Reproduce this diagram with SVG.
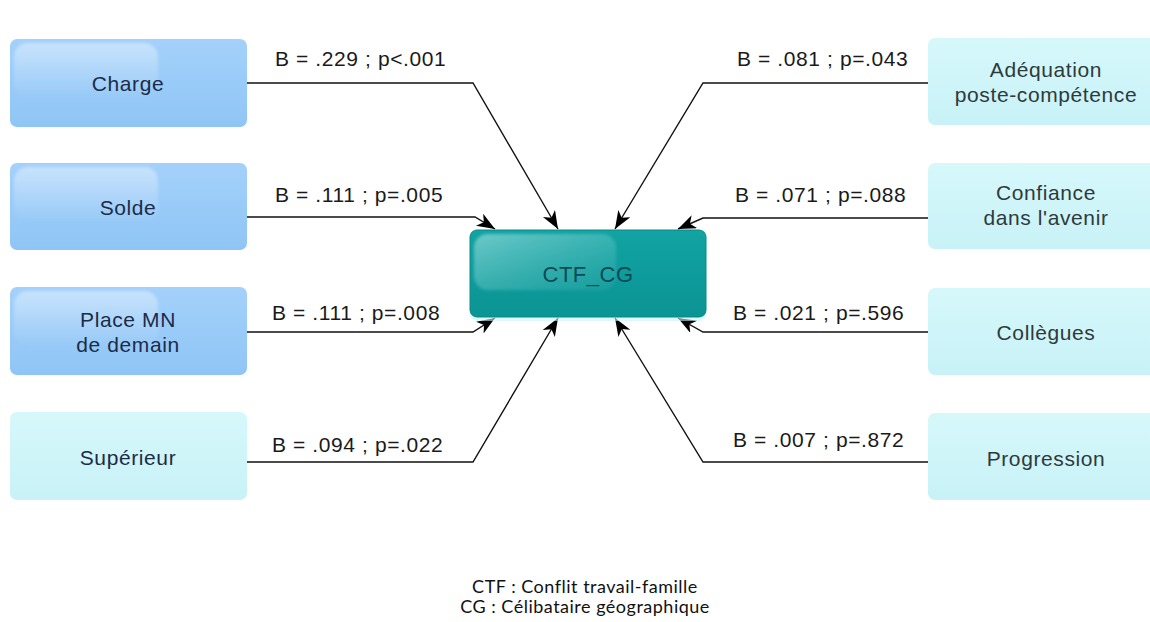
<svg xmlns="http://www.w3.org/2000/svg" width="1150" height="622" viewBox="0 0 1150 622">
  <defs>
    <linearGradient id="gBlue" x1="0" y1="0" x2="0" y2="1">
      <stop offset="0" stop-color="#a4d1fb"/>
      <stop offset="1" stop-color="#8fc5f5"/>
    </linearGradient>
    <linearGradient id="gCyan" x1="0" y1="0" x2="0" y2="1">
      <stop offset="0" stop-color="#d6f8fb"/>
      <stop offset="1" stop-color="#c8f2f7"/>
    </linearGradient>
    <linearGradient id="gTeal" x1="0" y1="0" x2="0" y2="1">
      <stop offset="0" stop-color="#12a3a3"/>
      <stop offset="1" stop-color="#0b9494"/>
    </linearGradient>
    <linearGradient id="gGloss" x1="0" y1="0" x2="0" y2="1">
      <stop offset="0" stop-color="#ffffff" stop-opacity="0.4"/>
      <stop offset="0.6" stop-color="#ffffff" stop-opacity="0.15"/>
      <stop offset="1" stop-color="#ffffff" stop-opacity="0"/>
    </linearGradient>
    <linearGradient id="gGlossTeal" x1="0" y1="0" x2="1" y2="1">
      <stop offset="0" stop-color="#9fdede" stop-opacity="0.65"/>
      <stop offset="1" stop-color="#4fbcbc" stop-opacity="0.15"/>
    </linearGradient>
    <filter id="soft" x="-10%" y="-10%" width="120%" height="120%">
      <feGaussianBlur stdDeviation="1.5"/>
    </filter>
    <marker id="arrow" markerUnits="userSpaceOnUse" markerWidth="20" markerHeight="16" refX="18" refY="7" orient="auto">
      <path d="M0,0 L18,7 L0,14 L5,7 z" fill="#000"/>
    </marker>
    <style>
      .lbl { font-family: "Liberation Sans", Arial, sans-serif; font-size: 21px; letter-spacing: 0.6px; fill: #1a1a1a; }
      .ntxt { font-family: "Liberation Sans", Arial, sans-serif; font-size: 21px; letter-spacing: 0.6px; text-anchor: middle; }
      .left .ntxt { fill: #1c2c48; }
      .right .ntxt { fill: #2e3a3c; }
      .gloss { fill: url(#gGloss); filter: url(#soft); }
      .conn { fill: none; stroke: #111; stroke-width: 1.4; marker-end: url(#arrow); }
      .foot { font-family: "Lato", "Open Sans", sans-serif; font-size: 18px; letter-spacing: 0.5px; fill: #111; text-anchor: middle; }
    </style>
  </defs>

  <rect width="1150" height="622" fill="#ffffff"/>

  <!-- connectors -->
  <g id="connectors">
    <path class="conn" d="M247,83 H473 L558,229"/>
    <path class="conn" d="M247,217 H475 L495,229"/>
    <path class="conn" d="M247,332 H473 L495,318"/>
    <path class="conn" d="M247,462 H473 L558,318"/>
    <path class="conn" d="M928,83 H703 L615,229"/>
    <path class="conn" d="M928,218 H703 L678,229"/>
    <path class="conn" d="M928,332 H703 L678,318"/>
    <path class="conn" d="M928,462 H703 L615,318"/>
  </g>

  <!-- coefficient labels -->
  <g id="labels">
    <text class="lbl" x="275" y="66">B = .229 ; p&lt;.001</text>
    <text class="lbl" x="275" y="202">B = .111 ; p=.005</text>
    <text class="lbl" x="272" y="320">B = .111 ; p=.008</text>
    <text class="lbl" x="272" y="452">B = .094 ; p=.022</text>
    <text class="lbl" x="737" y="66">B = .081 ; p=.043</text>
    <text class="lbl" x="735" y="202">B = .071 ; p=.088</text>
    <text class="lbl" x="733" y="320">B = .021 ; p=.596</text>
    <text class="lbl" x="733" y="447">B = .007 ; p=.872</text>
  </g>

  <!-- central node -->
  <g id="ctf_cg">
    <rect x="470" y="232" width="236" height="86" rx="7" fill="#c9f3f5" opacity="0.6" transform="translate(0,3)"/>
    <rect x="470" y="230" width="236" height="87" rx="7" fill="url(#gTeal)" stroke="#0a8a8a" stroke-width="1"/>
    <rect x="474" y="234" width="142" height="56" rx="14" fill="url(#gGlossTeal)" filter="url(#soft)"/>
    <text x="588" y="282" font-family="Liberation Sans, Arial, sans-serif" font-size="22" letter-spacing="0.5" fill="#0d4a55" text-anchor="middle">CTF_CG</text>
  </g>

  <!-- left nodes -->
  <g class="left">
    <g id="charge">
      <rect x="10" y="39" width="237" height="88" rx="7" fill="url(#gBlue)"/>
      <rect class="gloss" x="14" y="43" width="144" height="56" rx="14"/>
      <text class="ntxt" x="128" y="91">Charge</text>
    </g>
    <g id="solde">
      <rect x="10" y="163" width="237" height="87" rx="7" fill="url(#gBlue)"/>
      <rect class="gloss" x="14" y="167" width="144" height="56" rx="14"/>
      <text class="ntxt" x="128" y="215">Solde</text>
    </g>
    <g id="place_mn">
      <rect x="10" y="287" width="237" height="88" rx="7" fill="url(#gBlue)"/>
      <rect class="gloss" x="14" y="291" width="144" height="56" rx="14"/>
      <text class="ntxt" x="128" y="327">Place MN</text>
      <text class="ntxt" x="128" y="352">de demain</text>
    </g>
    <g id="superieur">
      <rect x="10" y="412" width="237" height="88" rx="7" fill="url(#gCyan)"/>
      <text class="ntxt" x="128" y="465" fill="#243a40">Supérieur</text>
    </g>
  </g>

  <!-- right nodes -->
  <g class="right">
    <g id="adequation">
      <rect x="928" y="38" width="237" height="87" rx="7" fill="url(#gCyan)"/>
      <text class="ntxt" x="1046" y="77">Adéquation</text>
      <text class="ntxt" x="1046" y="102">poste-compétence</text>
    </g>
    <g id="confiance">
      <rect x="928" y="163" width="237" height="86" rx="7" fill="url(#gCyan)"/>
      <text class="ntxt" x="1046" y="200">Confiance</text>
      <text class="ntxt" x="1046" y="225">dans l'avenir</text>
    </g>
    <g id="collegues">
      <rect x="928" y="288" width="237" height="87" rx="7" fill="url(#gCyan)"/>
      <text class="ntxt" x="1046" y="340">Collègues</text>
    </g>
    <g id="progression">
      <rect x="928" y="413" width="237" height="87" rx="7" fill="url(#gCyan)"/>
      <text class="ntxt" x="1046" y="466">Progression</text>
    </g>
  </g>

  <!-- legend -->
  <g id="legend">
    <text class="foot" x="585" y="593">CTF : Conflit travail-famille</text>
    <text class="foot" x="585" y="613">CG : Célibataire géographique</text>
  </g>
</svg>
